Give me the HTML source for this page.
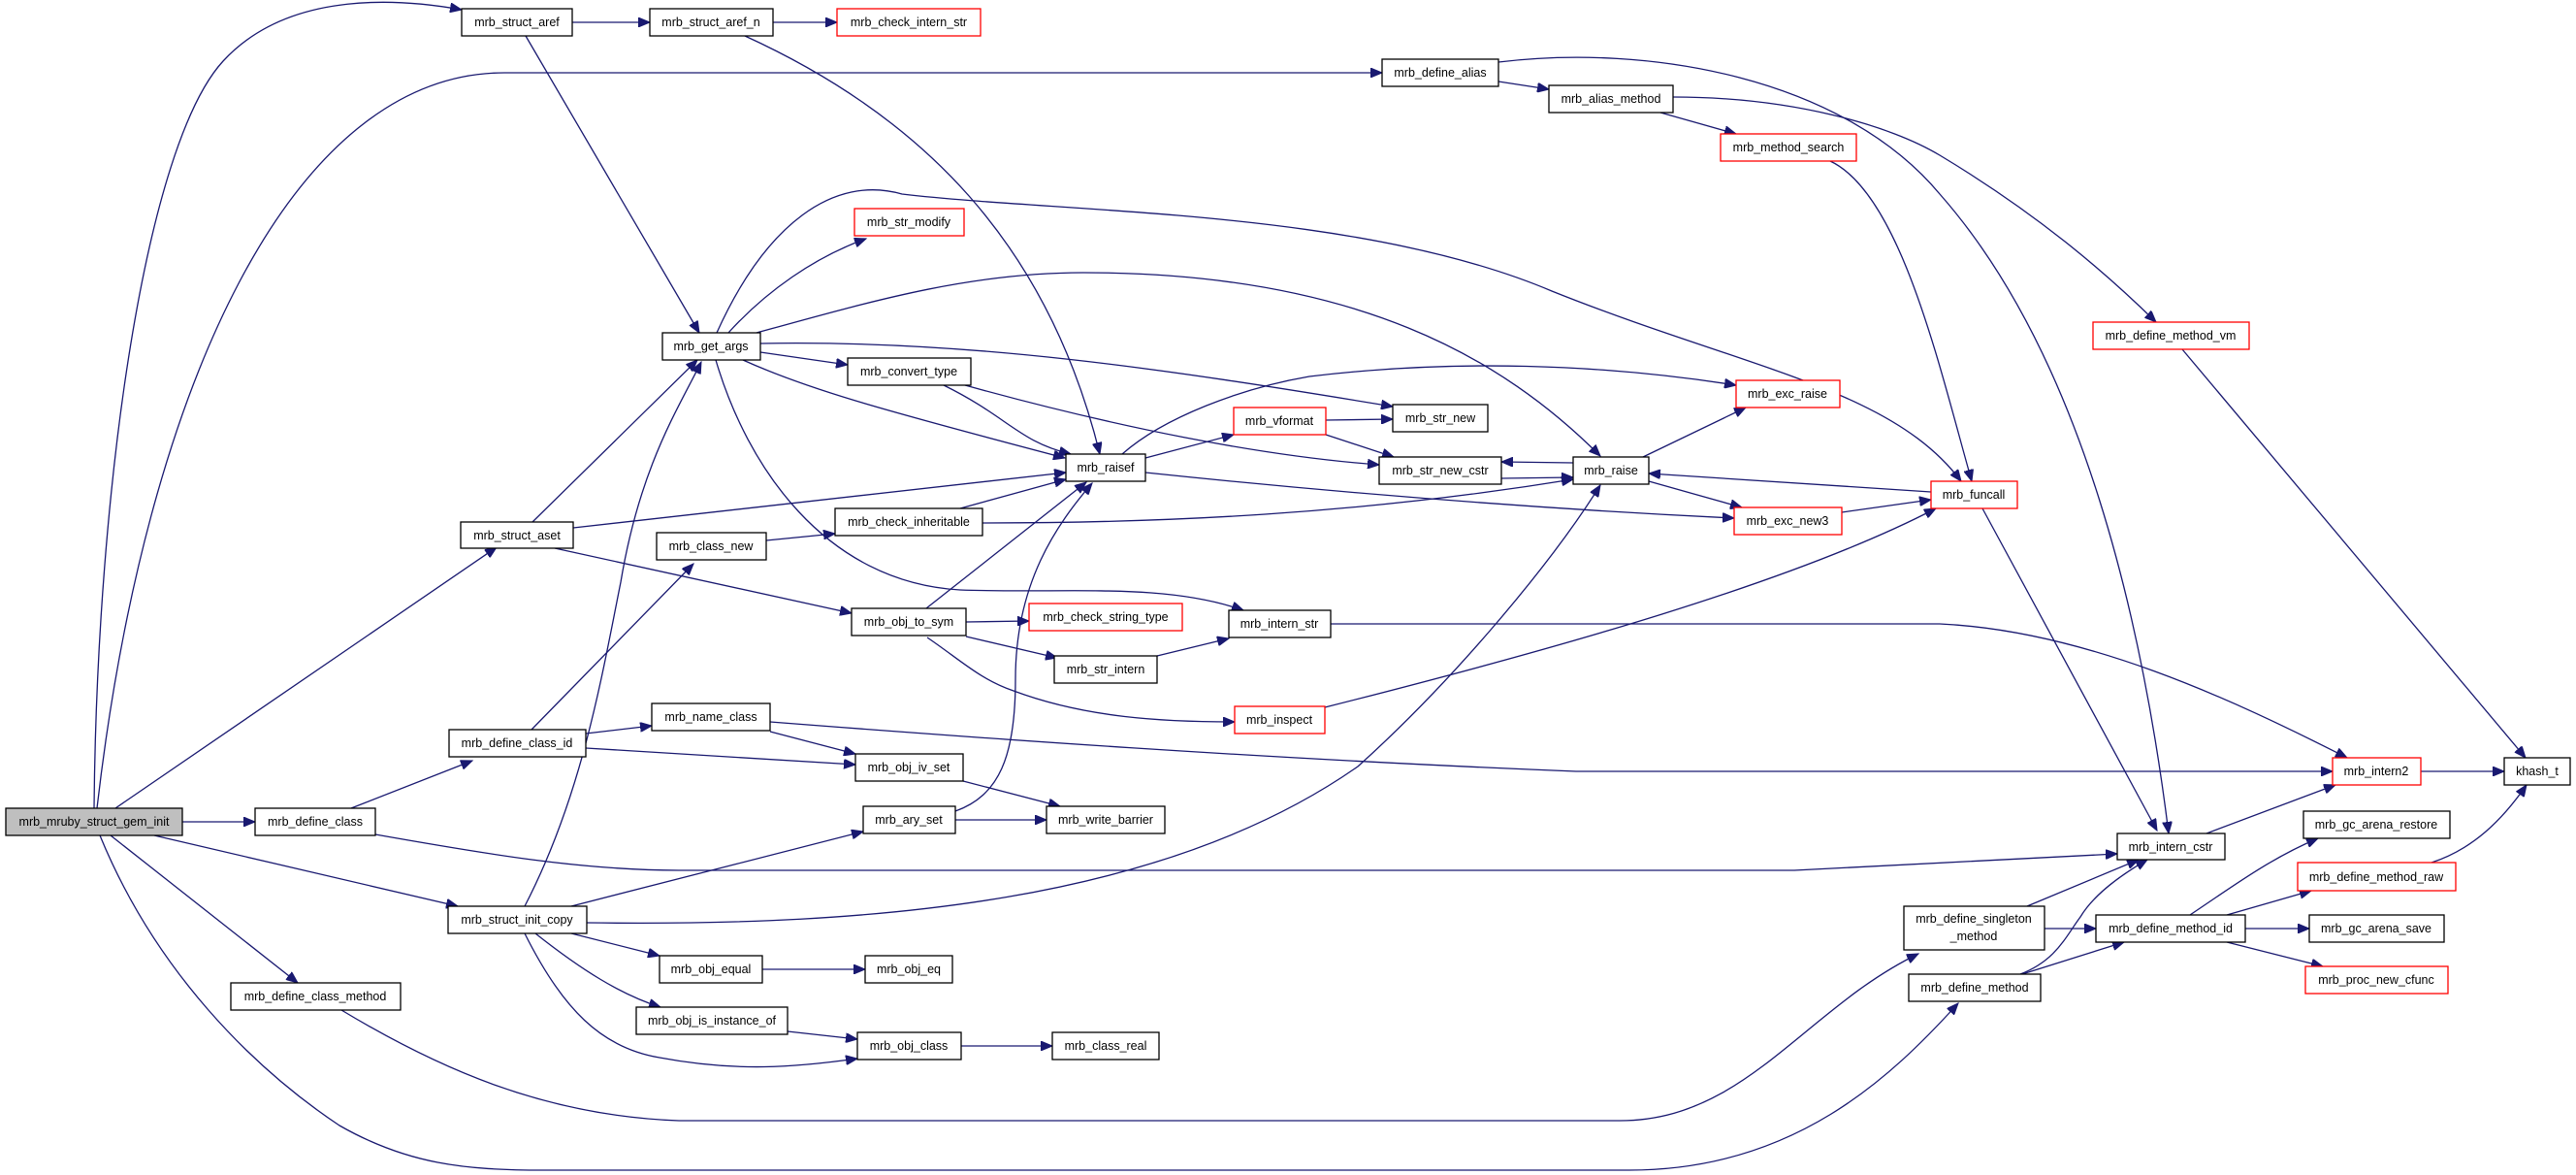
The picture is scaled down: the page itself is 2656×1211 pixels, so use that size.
<!DOCTYPE html>
<html><head><meta charset="utf-8"><style>
html,body{margin:0;padding:0;background:#fff;}
svg{display:block;}
text{font-family:"Liberation Sans",Arial,sans-serif;font-size:12.5px;fill:#000;text-anchor:middle;}
.e{fill:none;stroke:#191970;stroke-width:1.3;marker-end:url(#a);}
.n{fill:#fff;stroke:#000;stroke-width:1.3;}
.r{fill:#fff;stroke:#ff0000;stroke-width:1.3;}
</style></head><body>
<svg width="2656" height="1211" viewBox="0 0 2656 1211" xmlns="http://www.w3.org/2000/svg">
<defs><marker id="a" markerUnits="userSpaceOnUse" markerWidth="14" markerHeight="10" refX="12" refY="5" orient="auto"><path d="M0,0 L12,5 L0,10 z" fill="#191970" stroke="#191970"/></marker></defs>
<g>
<path class="e" d="M97,833 C100,500 150,150 230,63 C300,-13 420,0 476,10"/>
<path class="e" d="M100,833 C150,400 300,75 520,75 L1425,75"/>
<path class="e" d="M119,833 L512,564"/>
<path class="e" d="M188,847 L263,847"/>
<path class="e" d="M159,861 L472,934"/>
<path class="e" d="M114,861 L307,1013"/>
<path class="e" d="M103,861 C160,1000 260,1100 350,1160 C420,1200 480,1206 560,1206 L1680,1206 C1850,1206 1950,1110 2019,1034"/>
<path class="e" d="M352,1041 C450,1100 560,1150 700,1155 L1670,1155 C1800,1155 1860,1040 1978,983"/>
<path class="e" d="M362,833 L487,784"/>
<path class="e" d="M387,860 C500,880 600,897 700,897 L1850,897 L2183,880"/>
<path class="e" d="M604,756 L672,748"/>
<path class="e" d="M604,771 L882,788"/>
<path class="e" d="M548,752 L715,581"/>
<path class="e" d="M590,23 L670,23"/>
<path class="e" d="M542,37 L721,343"/>
<path class="e" d="M797,23 L863,23"/>
<path class="e" d="M768,37 C950,120 1080,250 1134,468"/>
<path class="e" d="M549,538 L719,371"/>
<path class="e" d="M591,544 L1099,487"/>
<path class="e" d="M572,565 L878,632"/>
<path class="e" d="M541,934 C600,820 620,700 640,600 C660,480 700,420 723,373"/>
<path class="e" d="M589,934 L890,857"/>
<path class="e" d="M605,951 C900,955 1200,930 1400,790 C1500,700 1600,580 1650,500"/>
<path class="e" d="M589,962 L680,985"/>
<path class="e" d="M552,962 C600,1000 640,1025 681,1038"/>
<path class="e" d="M541,962 C580,1040 620,1080 680,1090 C760,1105 820,1100 884,1091"/>
<path class="e" d="M751,343 C790,300 840,265 893,246"/>
<path class="e" d="M739,343 C790,230 860,180 930,200 C1100,220 1400,215 1600,300 C1800,380 1950,400 2022,496"/>
<path class="e" d="M784,354 C1000,350 1200,380 1436,419"/>
<path class="e" d="M1157,468 C1200,430 1280,400 1350,388 C1500,370 1650,375 1790,397"/>
<path class="e" d="M784,363 L874,376"/>
<path class="e" d="M766,371 C830,400 900,420 1098,472"/>
<path class="e" d="M738,371 C770,480 850,600 990,608 C1100,612 1200,600 1282,629"/>
<path class="e" d="M780,343 C900,310 1000,281 1117,281 C1400,281 1550,370 1650,470"/>
<path class="e" d="M973,397 C1040,430 1050,455 1104,468"/>
<path class="e" d="M995,397 C1150,440 1300,470 1422,479"/>
<path class="e" d="M1181,472 L1272,448"/>
<path class="e" d="M1181,487 C1400,510 1600,525 1788,534"/>
<path class="e" d="M1367,433 L1436,432"/>
<path class="e" d="M1367,448 L1437,471"/>
<path class="e" d="M1548,493 L1622,492"/>
<path class="e" d="M1622,477 L1548,476"/>
<path class="e" d="M1694,471 L1800,420"/>
<path class="e" d="M1700,496 L1796,523"/>
<path class="e" d="M1899,528 L1991,515"/>
<path class="e" d="M1991,507 L1700,488"/>
<path class="e" d="M990,524 L1099,494"/>
<path class="e" d="M1013,539 C1200,539 1400,530 1622,494"/>
<path class="e" d="M790,557 L861,550"/>
<path class="e" d="M955,627 L1120,497"/>
<path class="e" d="M996,641 L1061,640"/>
<path class="e" d="M996,656 L1090,678"/>
<path class="e" d="M956,657 C990,680 1010,700 1045,712 C1120,740 1200,744 1273,744"/>
<path class="e" d="M1193,676 L1267,658"/>
<path class="e" d="M1372,643 L2000,643 C2150,650 2300,720 2420,781"/>
<path class="e" d="M794,744 C1000,760 1300,782 1625,795 L2405,795"/>
<path class="e" d="M794,754 L882,777"/>
<path class="e" d="M993,805 L1093,831"/>
<path class="e" d="M985,845 L1079,845"/>
<path class="e" d="M985,836 C1030,820 1047,780 1047,700 C1047,600 1090,540 1126,498"/>
<path class="e" d="M1366,729 C1600,670 1850,600 1996,524"/>
<path class="e" d="M786,999 L892,999"/>
<path class="e" d="M812,1063 L884,1071"/>
<path class="e" d="M991,1078 L1085,1078"/>
<path class="e" d="M1545,84 L1597,92"/>
<path class="e" d="M1545,64 C1700,45 1900,80 2000,200 C2150,370 2210,650 2236,859"/>
<path class="e" d="M1712,116 L1790,138"/>
<path class="e" d="M1725,100 C1850,100 1950,130 2000,160 C2100,220 2170,280 2223,332"/>
<path class="e" d="M1887,166 C1960,200 2000,380 2033,496"/>
<path class="e" d="M2250,360 L2604,781"/>
<path class="e" d="M2044,524 L2224,856"/>
<path class="e" d="M2275,859 L2408,809"/>
<path class="e" d="M2496,795 L2582,795"/>
<path class="e" d="M2090,934 L2205,886"/>
<path class="e" d="M2108,957 L2161,957"/>
<path class="e" d="M2083,1004 C2120,990 2130,965 2145,945 C2160,920 2190,900 2214,886"/>
<path class="e" d="M2085,1004 L2190,971"/>
<path class="e" d="M2258,943 C2300,915 2340,885 2390,864"/>
<path class="e" d="M2296,943 L2383,918"/>
<path class="e" d="M2315,957 L2381,957"/>
<path class="e" d="M2296,971 L2395,996"/>
<path class="e" d="M2507,889 C2550,875 2580,845 2605,809"/>
</g>
<g>
<rect x="6" y="833" width="182" height="28" fill="#bfbfbf" stroke="#000" stroke-width="1.3"/><text x="97" y="851">mrb_mruby_struct_gem_init</text>
<rect class="n" x="263" y="833" width="124" height="28"/><text x="325" y="851">mrb_define_class</text>
<rect class="n" x="238" y="1013" width="175" height="28"/><text x="325" y="1031">mrb_define_class_method</text>
<rect class="n" x="462" y="934" width="143" height="28"/><text x="533" y="952">mrb_struct_init_copy</text>
<rect class="n" x="476" y="9" width="114" height="28"/><text x="533" y="27">mrb_struct_aref</text>
<rect class="n" x="475" y="538" width="116" height="27"/><text x="533" y="556">mrb_struct_aset</text>
<rect class="n" x="463" y="752" width="141" height="28"/><text x="533" y="770">mrb_define_class_id</text>
<rect class="n" x="670" y="9" width="127" height="28"/><text x="733" y="27">mrb_struct_aref_n</text>
<rect class="r" x="863" y="9" width="148" height="28"/><text x="937" y="27">mrb_check_intern_str</text>
<rect class="r" x="881" y="215" width="113" height="28"/><text x="937" y="233">mrb_str_modify</text>
<rect class="n" x="683" y="343" width="101" height="28"/><text x="733" y="361">mrb_get_args</text>
<rect class="n" x="874" y="369" width="127" height="28"/><text x="937" y="387">mrb_convert_type</text>
<rect class="n" x="1099" y="468" width="82" height="28"/><text x="1140" y="486">mrb_raisef</text>
<rect class="n" x="861" y="524" width="152" height="28"/><text x="937" y="542">mrb_check_inheritable</text>
<rect class="n" x="677" y="549" width="113" height="28"/><text x="733" y="567">mrb_class_new</text>
<rect class="n" x="878" y="627" width="118" height="28"/><text x="937" y="645">mrb_obj_to_sym</text>
<rect class="r" x="1061" y="622" width="158" height="28"/><text x="1140" y="640">mrb_check_string_type</text>
<rect class="n" x="1087" y="676" width="106" height="28"/><text x="1140" y="694">mrb_str_intern</text>
<rect class="r" x="1273" y="728" width="93" height="28"/><text x="1319" y="746">mrb_inspect</text>
<rect class="n" x="672" y="725" width="122" height="28"/><text x="733" y="743">mrb_name_class</text>
<rect class="n" x="882" y="777" width="111" height="28"/><text x="937" y="795">mrb_obj_iv_set</text>
<rect class="n" x="890" y="831" width="95" height="28"/><text x="937" y="849">mrb_ary_set</text>
<rect class="n" x="1079" y="831" width="122" height="28"/><text x="1140" y="849">mrb_write_barrier</text>
<rect class="n" x="680" y="985" width="106" height="28"/><text x="733" y="1003">mrb_obj_equal</text>
<rect class="n" x="892" y="985" width="90" height="28"/><text x="937" y="1003">mrb_obj_eq</text>
<rect class="n" x="656" y="1038" width="156" height="28"/><text x="734" y="1056">mrb_obj_is_instance_of</text>
<rect class="n" x="884" y="1064" width="107" height="28"/><text x="937" y="1082">mrb_obj_class</text>
<rect class="n" x="1085" y="1064" width="110" height="28"/><text x="1140" y="1082">mrb_class_real</text>
<rect class="r" x="1272" y="420" width="95" height="28"/><text x="1319" y="438">mrb_vformat</text>
<rect class="n" x="1436" y="417" width="98" height="28"/><text x="1485" y="435">mrb_str_new</text>
<rect class="n" x="1422" y="471" width="126" height="28"/><text x="1485" y="489">mrb_str_new_cstr</text>
<rect class="n" x="1622" y="471" width="78" height="28"/><text x="1661" y="489">mrb_raise</text>
<rect class="r" x="1790" y="392" width="107" height="28"/><text x="1843" y="410">mrb_exc_raise</text>
<rect class="r" x="1788" y="523" width="111" height="28"/><text x="1843" y="541">mrb_exc_new3</text>
<rect class="n" x="1267" y="629" width="105" height="28"/><text x="1319" y="647">mrb_intern_str</text>
<rect class="n" x="1425" y="61" width="120" height="28"/><text x="1485" y="79">mrb_define_alias</text>
<rect class="n" x="1597" y="88" width="128" height="28"/><text x="1661" y="106">mrb_alias_method</text>
<rect class="r" x="1774" y="138" width="140" height="28"/><text x="1844" y="156">mrb_method_search</text>
<rect class="r" x="2158" y="332" width="161" height="28"/><text x="2238" y="350">mrb_define_method_vm</text>
<rect class="r" x="1991" y="496" width="89" height="28"/><text x="2035" y="514">mrb_funcall</text>
<rect class="r" x="2405" y="781" width="91" height="28"/><text x="2450" y="799">mrb_intern2</text>
<rect class="n" x="2582" y="781" width="68" height="28"/><text x="2616" y="799">khash_t</text>
<rect class="n" x="2183" y="859" width="111" height="27"/><text x="2238" y="877">mrb_intern_cstr</text>
<rect class="n" x="2375" y="836" width="151" height="28"/><text x="2450" y="854">mrb_gc_arena_restore</text>
<rect class="r" x="2369" y="889" width="163" height="29"/><text x="2450" y="908">mrb_define_method_raw</text>
<rect class="n" x="2161" y="943" width="154" height="28"/><text x="2238" y="961">mrb_define_method_id</text>
<rect class="n" x="2381" y="943" width="139" height="28"/><text x="2450" y="961">mrb_gc_arena_save</text>
<rect class="r" x="2377" y="996" width="147" height="28"/><text x="2450" y="1014">mrb_proc_new_cfunc</text>
<rect class="n" x="1963" y="934" width="145" height="45"/><text x="2035" y="951">mrb_define_singleton</text><text x="2035" y="969">_method</text>
<rect class="n" x="1968" y="1004" width="136" height="28"/><text x="2036" y="1022">mrb_define_method</text>
</g>
</svg>
</body></html>
